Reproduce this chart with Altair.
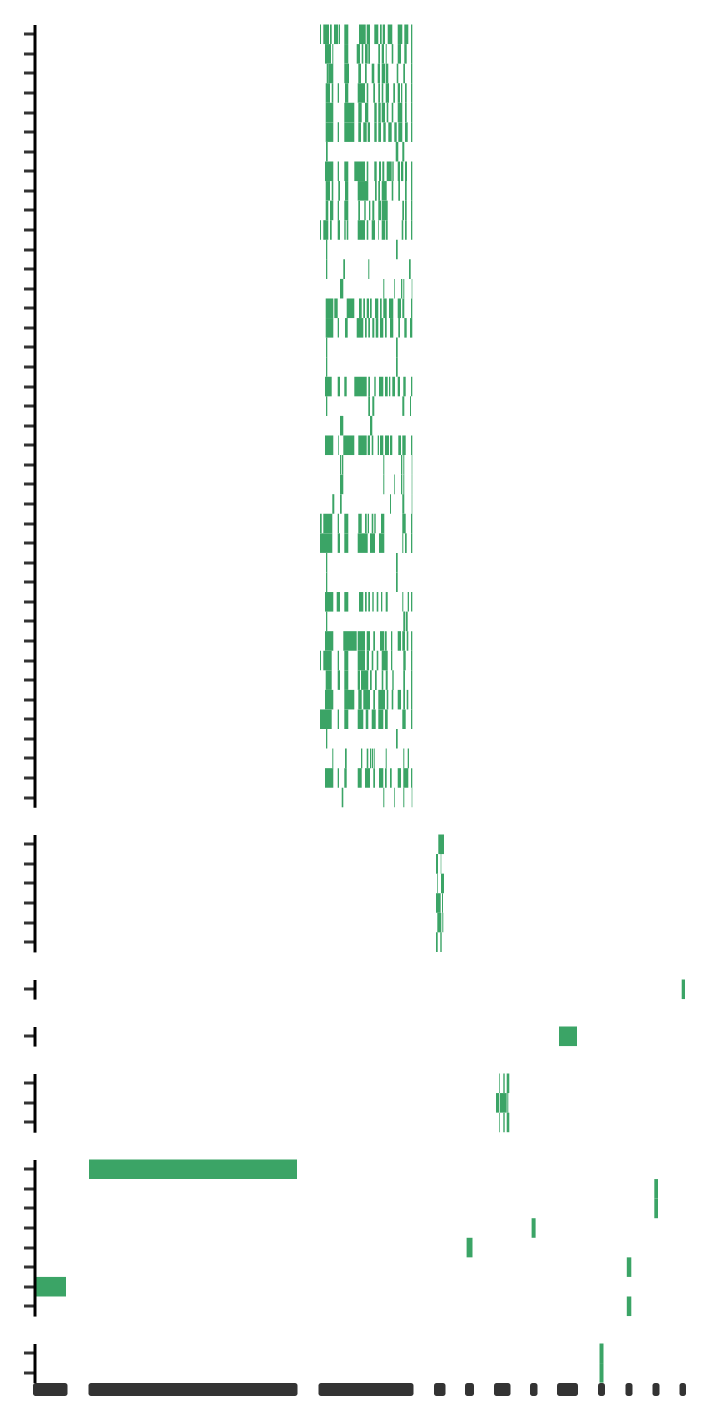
import altair as alt
import pandas as pd

GREEN = "#3ba466"
DARK = "#333333"
STEP = 19.57
X_DOMAIN = [34.5, 686.5]
PLOT_W = 652

# ---- group 1 (40 rows) : intervals (start, end) per row ----
group1 = [
    [(320,321),(323.3,329),(330,331.7),(334,338.3),(339,340),(344.3,348.3),(359,365.7),(366.7,370),(374.3,378.3),(380,381.7),(382.7,385),(387.7,392.3),(397.7,402.3),(404.3,408.3),(411,412.3)],
    [(325,331),(332.3,333.3),(344.3,348.3),(356.7,360),(361.7,363.3),(365,367.7),(368.3,370),(378.3,380),(381.7,384),(385.7,386.7),(391.7,393.3),(397.7,401),(404.3,406.7),(411,412.3)],
    [(326.7,328.3),(328.3,333.3),(344.3,349),(358.3,361),(365,366.7),(371.7,374.3),(377.7,380),(381.7,385),(385.7,388.3),(396.7,398.3),(403.3,405),(411,412.3)],
    [(325.7,330),(331.7,333.3),(337.7,339),(345,348.3),(357.7,365),(366.7,368.3),(373.3,375),(378.3,380),(381.7,383.3),(385.7,389),(393.3,395),(397.7,400),(401,402.3),(405,406.7),(411,412.3)],
    [(325.7,333.3),(344.3,354.3),(358.3,361.7),(365,368.3),(374.3,376.7),(378.3,380.7),(381.7,385),(386.7,388.3),(391.7,393.3),(397.7,402.3),(405,406.7),(411,412.3)],
    [(325.7,333.3),(337.7,339),(344.3,354.3),(358.3,361),(363.3,366.7),(367.7,370),(374.3,376.7),(378.3,381),(383.3,385.7),(388.3,391.7),(394.3,396.7),(398.3,402.3),(405,407.7),(411,412.3)],
    [(326,327.7),(395.7,398.3),(402.3,404.3)],
    [(325,333.3),(337.7,339),(344.3,348.3),(354.3,365),(366.7,368.3),(374.3,376.7),(379,381),(382.3,384.3),(386.7,391.7),(392.3,393.7),(397.7,400),(401,403.3),(405,407),(411,412.3)],
    [(325.7,330),(331.7,333.3),(338.3,340),(345,348.3),(357.7,368.3),(375,376.7),(378.3,380),(381.7,386.7),(391.7,393.3),(398.3,400),(405,406.7),(411,412.3)],
    [(325.7,328.3),(330,333.3),(337.7,339),(344.3,348.3),(358.3,360),(364.3,365.7),(369,370.3),(372.3,374.3),(378.3,381),(381.7,387.7),(402.3,404),(405,406.7),(411,412.3)],
    [(320,321),(323.3,328.3),(330,331.7),(337.7,340),(344.3,345.7),(346.7,348.3),(357.7,365),(366.7,368.3),(371.7,375),(378.3,379),(381.7,385),(385.7,387.7),(401.7,403.3),(405,406.7),(411,412.3)],
    [(326,327.3),(396,397.7)],
    [(326,327.3),(343.3,345),(368.3,369.3),(409,410.7)],
    [(340,343.3),(383.3,384.3),(394.3,395),(401,402.3),(403.3,404.3),(411.7,412.3)],
    [(325.7,333.3),(334.3,337.7),(346.7,354.3),(359,361.7),(363.3,365),(366.7,369),(370,371.7),(375,378.3),(380,381.7),(383.3,386.7),(389,393.3),(397.7,401),(402.3,404.3),(411,412.3)],
    [(325.7,333.3),(337.7,339),(345,347.7),(356.7,363.3),(365,366.7),(368.3,370),(372.3,374.3),(375.7,378.3),(380,383.3),(385,386.7),(390,393.3),(398.3,400),(404.3,406.7),(410,412.3)],
    [(326,327.3),(396,397.7)],
    [(326,327.3),(396,397.7)],
    [(325,331.7),(337.7,340),(344.3,346.7),(354.3,366.7),(368.3,370),(374.3,375.7),(379,383.3),(385,387.7),(389,390.3),(392.3,395),(397.7,400),(403.3,405.7),(411,412.3)],
    [(326,327.3),(368.3,370),(372.3,374.3),(402.3,404.3),(410,411)],
    [(340,343.3),(370,372.3)],
    [(325,333.3),(338.3,339),(343.3,354.3),(358.3,366.7),(367.7,370),(371.7,373.3),(377.7,379),(380,383.3),(385,389),(390,392.3),(398.3,401),(402.3,405.7),(411,412.3)],
    [(340,341),(341.7,343.3),(383.3,384.3),(401,402.3),(403.3,404.3),(411.7,412.3)],
    [(340,343.3),(383.3,384.3),(394.3,395),(401,402.3),(403.3,404.3),(411.7,412.3)],
    [(332.3,334.3),(340,341.7),(390,391),(402.3,404.3),(411.7,412.3)],
    [(320,321.7),(323.3,332.3),(337.7,339),(344.3,348.3),(358.3,361.7),(365,366.7),(367.7,369),(371.7,373.3),(374.3,375.7),(381,384.3),(402.3,405.7),(411,412.3)],
    [(320,332.3),(337.7,340),(344.3,348.3),(357.7,367.7),(370,375),(379,384.3),(402.3,403.3),(405,406.7),(411,412.3)],
    [(326,327.3),(396,397.7)],
    [(326,327.3),(396,397.7)],
    [(325,333.3),(336.7,340),(344.3,348.3),(359,363.3),(365,366.7),(368.3,370),(372.3,373.7),(376.7,378.3),(381,382.3),(385.7,387.7),(402.3,403.3),(407.7,409),(411,412.3)],
    [(326,327.3),(403.3,405),(405.7,407.7)],
    [(325,333.3),(343.3,356.7),(357.7,365),(366.7,370),(373.3,375),(380,384.3),(385,386.7),(391,392.3),(397.7,401),(402.3,405),(406.7,408.3),(411,412.3)],
    [(320,321),(323.3,331.7),(337.7,339),(344.3,348.3),(357.7,365),(366.7,369),(371.7,373.3),(376.7,378.3),(381.7,387.7),(391,392.3),(403.3,405.7),(411,412.3)],
    [(325.7,331.7),(337.7,340),(344.3,348.3),(357.7,360),(361,368.3),(370,371.7),(375,376.7),(381.7,383.3),(385.7,387.7),(392.3,393.7),(403.3,405),(411,412.3)],
    [(325,333.3),(344.3,354.3),(358.3,361.7),(363.3,370),(373.3,375),(378.3,385),(386.7,388.3),(391.7,393.3),(397.7,401),(403.3,405),(406.7,408.3),(411,412.3)],
    [(320,331.7),(337.7,339),(344.3,348.3),(357.7,363.3),(365.7,368.3),(371.7,375.7),(378.3,383.3),(385,387.7),(402.3,405.7),(411,412.3)],
    [(326,327.3),(396,397.7)],
    [(332.3,333.3),(345,346.7),(361,362.3),(366.7,368.3),(370,371),(371.7,373.3),(374.3,375),(385.7,386.7),(403.3,404.3),(407.7,409)],
    [(325,333.3),(337.7,339),(344.3,346.7),(357.7,361.7),(365,370),(373.3,375),(379,383.3),(385,386.7),(390,391.7),(397.7,401),(403.3,408.3),(411,412.3)],
    [(341.7,343.3),(383.3,384.3),(394.3,395),(403.3,404.3),(411.7,412.3)],
]

group2 = [
    [(438.3,444)],
    [(436,438),(440.7,441.3)],
    [(437.3,438),(441,444)],
    [(436,440.7),(442,443)],
    [(437.3,441.3),(442.3,443.3)],
    [(436,437.7),(440.3,441.7)],
]

group3 = [
    [(681.7,685)],
]

group4 = [
    [(559,577)],
]

group5 = [
    [(499.3,500),(503.3,504.7),(506.7,509.3)],
    [(496,499.3),(500,506.7),(507.3,508.3)],
    [(499.3,500),(503.3,504.7),(506.7,509.3)],
]

group6 = [
    [(89,297)],
    [(654.3,658)],
    [(654.3,658)],
    [(531.6,535.6)],
    [(466.6,472.5)],
    [(626.8,631.3)],
    [(36,66)],
    [(626.8,631.3)],
]

group7 = [
    [(599.5,603.5)],
    [(599.5,603.5)],
]

# ---- overview strip (active ranges) ----
overview = [(33,67.5),(88.5,297.5),(318.5,413.5),(434,445.5),(465,474),(494,510.5),
            (530,537.5),(557,578),(598,605),(625.5,632.5),(652.5,659.5),(679.5,686)]

xscale = alt.Scale(domain=X_DOMAIN, nice=False, zero=False)


def panel(rows):
    recs = [{"row": i, "start": s, "end": e} for i, segs in enumerate(rows) for s, e in segs]
    df = pd.DataFrame(recs)
    n = len(rows)
    return alt.Chart(df).mark_rect(color=GREEN).encode(
        x=alt.X("start:Q", scale=xscale, axis=None),
        x2="end:Q",
        y=alt.Y(
            "row:O",
            scale=alt.Scale(domain=list(range(n)), paddingInner=0, paddingOuter=0),
            axis=alt.Axis(labels=False, title=None, domainColor="black", domainWidth=3,
                          tickColor=DARK, tickWidth=3, tickSize=11, grid=False),
        ),
    ).properties(width=PLOT_W, height=n * STEP)


strip_df = pd.DataFrame(overview, columns=["start", "end"])
strip = alt.Chart(strip_df).mark_rect(color=DARK, cornerRadius=2.5).encode(
    x=alt.X("start:Q", scale=xscale, axis=None),
    x2="end:Q",
    y=alt.value(39.5),
    y2=alt.value(52.5),
)

last = alt.layer(panel(group7), strip)

chart = alt.vconcat(
    panel(group1), panel(group2), panel(group3), panel(group4),
    panel(group5), panel(group6), last, spacing=27
).properties(
    padding={"left": 21.5, "top": 24.5, "right": 10, "bottom": 10}
).configure_view(stroke=None)

chart.save("out.html", embed_options={"renderer": "svg", "actions": False})
